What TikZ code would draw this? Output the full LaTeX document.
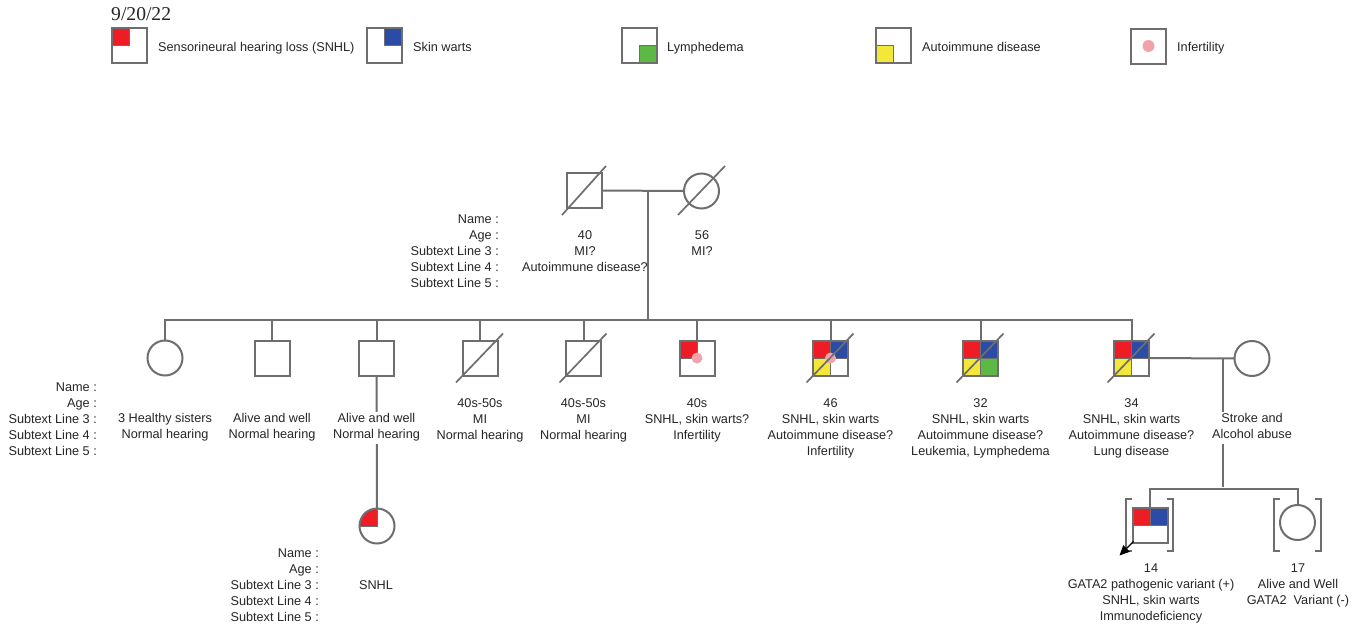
\documentclass[tikz,border=0pt]{standalone}
\usepackage{fontspec}
\setmainfont{Liberation Sans}
\newfontfamily\datefont{Liberation Serif}
\usetikzlibrary{arrows.meta}
\definecolor{lc}{HTML}{6E6E6E}
\definecolor{txt}{HTML}{262626}
\definecolor{snhl}{HTML}{EE1D25}
\definecolor{warts}{HTML}{2B4BA6}
\definecolor{lymph}{HTML}{5CB946}
\definecolor{auto}{HTML}{F3E838}
\definecolor{infert}{HTML}{F2A3AA}
\newcommand\lblfont{\fontsize{12.7}{16}\selectfont}
\newcommand\qd[2]{\if\relax\detokenize{#1}\relax\else\filldraw[fill=#1,draw=lc,line width=1pt] (path picture bounding box.#2) rectangle (path picture bounding box.center);\fi}
\begin{document}
\begin{tikzpicture}[x=1pt,y=-1pt,
  sym/.style={draw=lc,line width=2pt,fill=white,inner sep=0pt,outer sep=0pt},
  sq/.style={sym,rectangle,minimum width=35pt,minimum height=35pt},
  ci/.style={sym,circle,minimum size=35pt},
  ln/.style={draw=lc,line width=2pt},
  dead/.style={draw=lc,line width=1.7pt},
  Q/.style n args={4}{path picture={\qd{#1}{north west}\qd{#2}{north east}\qd{#3}{south west}\qd{#4}{south east}}},
  lbl/.style={font=\lblfont,text=txt,align=center,anchor=north,inner xsep=1pt,inner ysep=0pt},
  lblr/.style={lbl,align=right,anchor=north east},
  bg/.style={fill=white},
  leg/.style={font=\lblfont,text=txt,anchor=base west,inner sep=0pt}]
\useasboundingbox[fill=white] (0,0) rectangle (1363,629);

% ---------- legend ----------
\node[anchor=base west,inner sep=0pt,text=txt,font=\datefont\fontsize{19.6}{22}\selectfont] (date) at (111,20) {9/20/22};
\node[sq,Q={snhl}{}{}{}] (L1) at (129.5,45.5) {};
\node[leg] (LT1) at (158,51) {Sensorineural hearing loss (SNHL)};
\node[sq,Q={}{warts}{}{}] (L2) at (384.5,45.5) {};
\node[leg] (LT2) at (413,51) {Skin warts};
\node[sq,Q={}{}{}{lymph}] (L3) at (639,45.5) {};
\node[leg] (LT3) at (667,51) {Lymphedema};
\node[sq,Q={}{}{auto}{}] (L4) at (893.5,45.5) {};
\node[leg] (LT4) at (922,51) {Autoimmune disease};
\node[sq] (L5) at (1148.5,46) {};
\fill[infert] (L5.center) circle[radius=6pt];
\node[leg] (LT5) at (1177,51) {Infertility};

% ---------- generation I ----------
\node[sq] (F) at (584,190.5) {};
\node[ci] (M) at (701.5,191) {};
\coordinate (m1) at (648,191);
\coordinate (s1) at (648,319);

% ---------- generation II ----------
\node[ci] (c1) at (165,358) {};
\node[sq] (c2) at (272,358) {};
\node[sq] (c3) at (376.5,358) {};
\node[sq] (c4) at (480,358) {};
\node[sq] (c5) at (583.5,358) {};
\node[sq,Q={snhl}{}{}{}] (c6) at (697,358) {};
\node[sq,Q={snhl}{warts}{auto}{}] (c7) at (830.5,358) {};
\node[sq,Q={snhl}{warts}{auto}{lymph}] (c8) at (980.5,358) {};
\node[sq,Q={snhl}{warts}{auto}{}] (c9) at (1131.5,358) {};
\node[ci] (S) at (1252,358.5) {};
\coordinate (m2) at (1223,358);
\coordinate (s2) at (1223,487);

% ---------- generation III ----------
\node[ci,Q={snhl}{}{}{}] (D) at (377,526) {};
\node[sq,Q={snhl}{warts}{}{}] (P) at (1150,525) {};
\node[ci] (D2) at (1297.5,522.5) {};

% ---------- connectors ----------
\draw[ln] (F.east) -- (M.west);
\draw[ln] (m1) -- (s1);
\draw[ln] (c1.north) -- ++(0,-20.5) -| (c9.north);
\foreach \n in {c2,c3,c4,c5,c6,c7,c8} \draw[ln] (\n.north) -- ++(0,-20.5);
\draw[ln] (c3.south) -- (D.north);
\draw[ln] (c9.east) -- (S.west);
\draw[ln] (m2) -- (s2);
\draw[ln] (P.north) -- ++(0,-19) -| (D2.north);

% brackets
\draw[ln] ([shift={(-18,-26)}]P.center) -- ++(-6,0) -- ++(0,52) -- ++(6,0);
\draw[ln] ([shift={(17,-26)}]P.center) -- ++(6,0) -- ++(0,52) -- ++(-6,0);
\draw[ln] ([shift={(-18,-23.5)}]D2.center) -- ++(-6,0) -- ++(0,52) -- ++(6,0);
\draw[ln] ([shift={(17,-23.5)}]D2.center) -- ++(6,0) -- ++(0,52) -- ++(-6,0);

% proband arrow
\draw[line width=1.2pt,-{Triangle[length=10pt,width=9pt]}] ([shift={(1,-1)}]P.south west) -- ++(-14,14);

% deceased strokes and infertility dots
\fill[infert] (c6.center) circle[radius=5.5pt];
\fill[infert] (c7.center) circle[radius=5.5pt];
\draw[dead] ([shift={(-22,24.5)}]F.center) -- ([shift={(22,-24.5)}]F.center);
\draw[dead] ([shift={(-23.5,24)}]M.center) -- ([shift={(23.5,-25)}]M.center);
\foreach \n in {c4,c5,c7,c8,c9}
  \draw[dead] ([shift={(-24,24.5)}]\n.center) -- ([shift={(23,-24.5)}]\n.center);

% ---------- texts ----------
\node[lblr] (lab1) at (500,212.4) {\strut Name :\\Age :\\Subtext Line 3 :\\Subtext Line 4 :\\Subtext Line 5 :};
\node[lbl] (tF) at (585,228.4) {\strut 40\\MI?\\Autoimmune disease?};
\node[lbl] (tM) at (702,228.4) {\strut 56\\MI?};

\node[lblr] (lab2) at (98,380.4) {\strut Name :\\Age :\\Subtext Line 3 :\\Subtext Line 4 :\\Subtext Line 5 :};
\node[lbl] (t1) at (165,411.4) {\strut 3 Healthy sisters\\Normal hearing};
\node[lbl] (t2) at (272,411.4) {\strut Alive and well\\Normal hearing};
\node[lbl,bg] (t3) at (376.5,411.4) {\strut Alive and well\\Normal hearing\strut};
\node[lbl] (t4) at (480,396.4) {\strut 40s-50s\\MI\\Normal hearing};
\node[lbl] (t5) at (583.5,396.4) {\strut 40s-50s\\MI\\Normal hearing};
\node[lbl] (t6) at (697,396.4) {\strut 40s\\SNHL, skin warts?\\Infertility};
\node[lbl] (t7) at (830.5,396.4) {\strut 46\\SNHL, skin warts\\Autoimmune disease?\\Infertility};
\node[lbl] (t8) at (980.5,396.4) {\strut 32\\SNHL, skin warts\\Autoimmune disease?\\Leukemia, Lymphedema};
\node[lbl] (t9) at (1131.5,396.4) {\strut 34\\SNHL, skin warts\\Autoimmune disease?\\Lung disease};
\node[lbl,bg] (tS) at (1252,411.4) {\strut Stroke and\\Alcohol abuse\strut};

\node[lblr] (lab3) at (320,546.4) {\strut Name :\\Age :\\Subtext Line 3 :\\Subtext Line 4 :\\Subtext Line 5 :};
\node[lbl] (tD) at (376,578.4) {\strut SNHL};
\node[lbl] (tP) at (1151,561.4) {\strut 14\\GATA2 pathogenic variant (+)\\SNHL, skin warts\\Immunodeficiency};
\node[lbl] (tD2) at (1298,561.4) {\strut 17\\Alive and Well\\GATA2~ Variant (-)};
\end{tikzpicture}
\end{document}
